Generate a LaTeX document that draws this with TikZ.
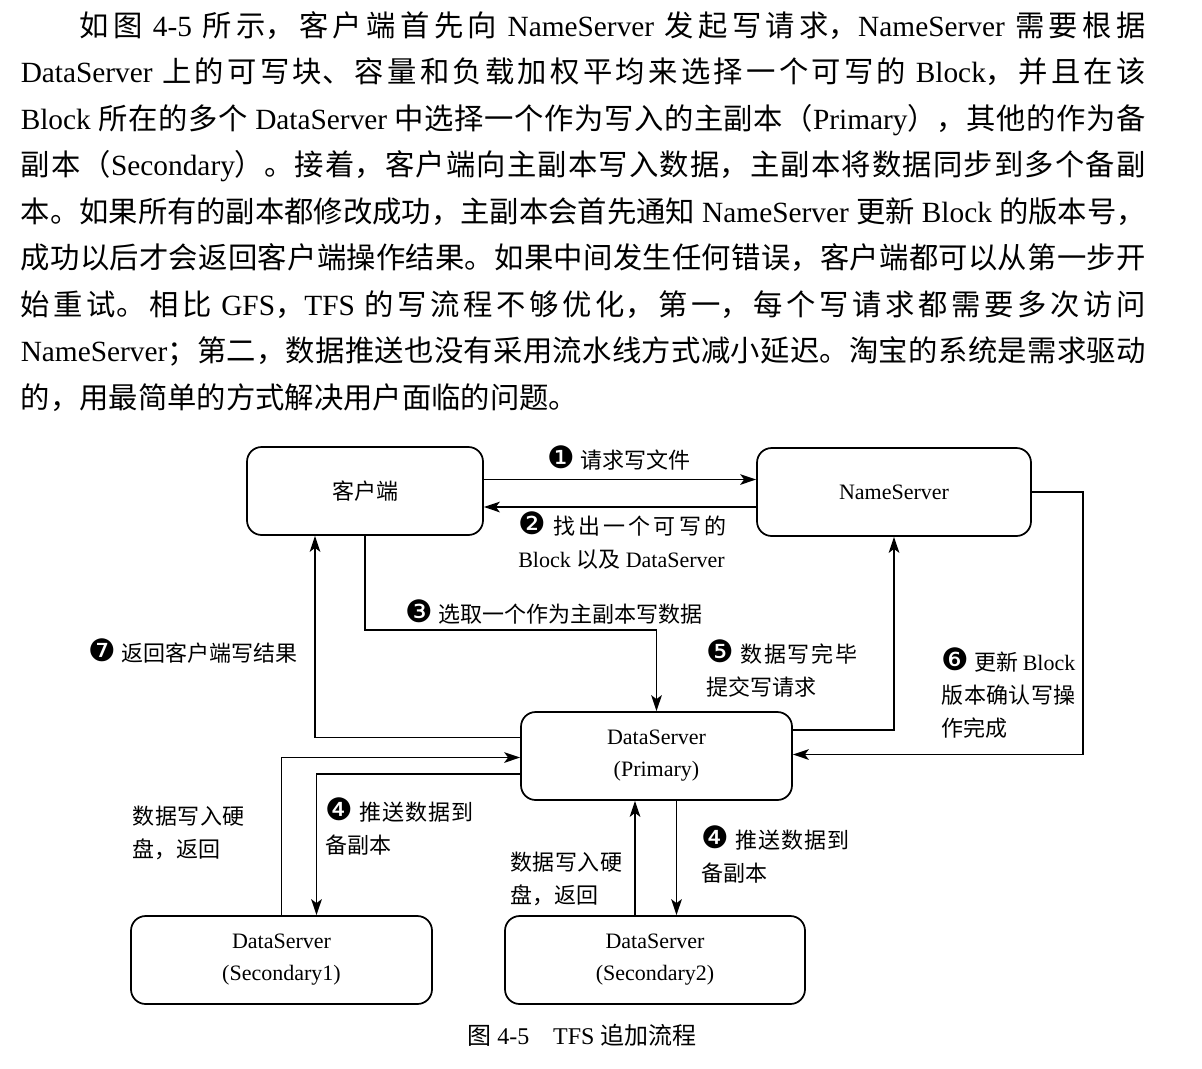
\documentclass[tikz,border=0pt]{standalone}
\usepackage{fontspec}
\setmainfont{Liberation Serif}
\newfontfamily\zhfont{Noto Sans CJK SC}
\newfontfamily\dingfont{DejaVu Sans}[Scale=1.4]
\usetikzlibrary{arrows.meta}
\XeTeXinterchartokenstate=1
\newXeTeXintercharclass\zhclass
\makeatletter
\count@="3000
\loop\XeTeXcharclass\count@=\zhclass\advance\count@ 1 \ifnum\count@<"3040 \repeat
\count@="4E00
\loop\XeTeXcharclass\count@=\zhclass\advance\count@ 1 \ifnum\count@<"A000 \repeat
\count@="FF00
\loop\XeTeXcharclass\count@=\zhclass\advance\count@ 1 \ifnum\count@<"FF60 \repeat
\makeatother
\XeTeXinterchartoks 0 \zhclass = {\begingroup\zhfont}
\XeTeXinterchartoks 4095 \zhclass = {\begingroup\zhfont}
\XeTeXinterchartoks \zhclass 0 = {\endgroup}
\XeTeXinterchartoks \zhclass 4095 = {\endgroup}
\XeTeXlinebreaklocale "zh"
\XeTeXlinebreakskip=0pt plus 4pt minus 0.3pt
\tolerance=10000
\hbadness=10000
\newcommand{\bnum}[1]{{\dingfont\char\numexpr"2775+#1\relax}}
\tikzset{
  box/.style={draw, line width=1.3pt, rounded corners=11pt, align=center, minimum height=66pt, inner sep=0pt, font=\fontsize{16.5pt}{24pt}\selectfont},
  lbl/.style={inner sep=0pt, anchor=base west, font=\fontsize{16.5pt}{24.75pt}\selectfont},
  plbl/.style={lbl, align=justify},
  arrow/.style={-{Stealth[length=12pt,width=8pt,inset=3pt]}, line width=1.2pt}
}

\begin{document}
\begin{tikzpicture}[x=0.75pt, y=-0.75pt]
  \fill[white] (0,0) rectangle (1202,1068);
  \node[lbl, align=justify, text width=843.75pt, font=\fontsize{22pt}{34.9pt}\selectfont] (body) at (20.5,36) {\hspace*{2em}如图 4-5 所示，客户端首先向 NameServer 发起写请求，NameServer 需要根据\linebreak
DataServer 上的可写块、容量和负载加权平均来选择一个可写的 Block，并且在该\linebreak
Block 所在的多个 DataServer 中选择一个作为写入的主副本（Primary），其他的作为备\linebreak
副本（Secondary）。接着，客户端向主副本写入数据，主副本将数据同步到多个备副\linebreak
本。如果所有的副本都修改成功，主副本会首先通知 NameServer 更新 Block 的版本号，\linebreak
成功以后才会返回客户端操作结果。如果中间发生任何错误，客户端都可以从第一步开\linebreak
始重试。相比 GFS，TFS 的写流程不够优化，第一，每个写请求都需要多次访问\linebreak
NameServer；第二，数据推送也没有采用流水线方式减小延迟。淘宝的系统是需求驱动\linebreak
的，用最简单的方式解决用户面临的问题。};

  \node[box, minimum width=177pt] (client) at (365,491) {客户端};
  \node[box, minimum width=205.5pt] (name) at (894,492) {NameServer};
  \node[box, minimum width=203.25pt] (prim) at (656.5,756) {DataServer\\(Primary)};
  \node[box, minimum width=225.75pt] (sec1) at (281.5,960) {DataServer\\(Secondary1)};
  \node[box, minimum width=225pt] (sec2) at (655,960) {DataServer\\(Secondary2)};

  \draw[arrow] (client.east |- 0,479.5) -- (name.west |- 0,479.5);
  \draw[arrow] (name.west |- 0,507) -- (client.east |- 0,507);
  \draw[arrow] (client.south) |- (prim.north |- 0,630) -- (prim.north);
  \draw[arrow] (prim.west |- 0,737.5) -| (client.south -| 315,0);
  \draw[arrow] (prim.east |- 0,730) -| (name.south);
  \draw[arrow] (name.east) -| (1083,754.5) -- (prim.east |- 0,754.5);
  \draw[arrow] (sec1.north) |- (prim.west |- 0,757.5);
  \draw[arrow] (prim.west |- 0,774) -| (sec1.north -| 316.5,0);
  \draw[arrow] (sec2.north -| 635,0) -- (prim.south -| 635,0);
  \draw[arrow] (prim.south -| 676.5,0) -- (sec2.north -| 676.5,0);

  \node[lbl] (t1) at (547,468) {\bnum{1} 请求写文件};
  \node[plbl, text width=156pt] (t2) at (518,534.5) {\bnum{2} 找出一个可写的\linebreak Block 以及 DataServer};
  \node[lbl] (t3) at (405,622.5) {\bnum{3} 选取一个作为主副本写数据};
  \node[plbl, text width=111pt] (t4a) at (325.7,820) {\bnum{4} 推送数据到\linebreak 备副本};
  \node[plbl, text width=111pt] (t4b) at (701.7,848) {\bnum{4} 推送数据到\linebreak 备副本};
  \node[plbl, text width=113.25pt] (t5) at (706,662.6) {\bnum{5} 数据写完毕\linebreak 提交写请求};
  \node[plbl, text width=100pt] (t6) at (941.7,670.6) {\bnum{6} 更新 Block\linebreak 版本确认写操\linebreak 作完成};
  \node[lbl] (t7) at (88,661) {\bnum{7} 返回客户端写结果};
  \node[plbl, text width=84pt] (w1) at (132.7,824) {数据写入硬\linebreak 盘，返回};
  \node[plbl, text width=84pt] (w2) at (510,870.6) {数据写入硬\linebreak 盘，返回};

  \node[lbl, font=\fontsize{18pt}{24pt}\selectfont] (cap) at (467,1044.5) {图 4-5\hspace{1em}TFS 追加流程};
\end{tikzpicture}
\end{document}
